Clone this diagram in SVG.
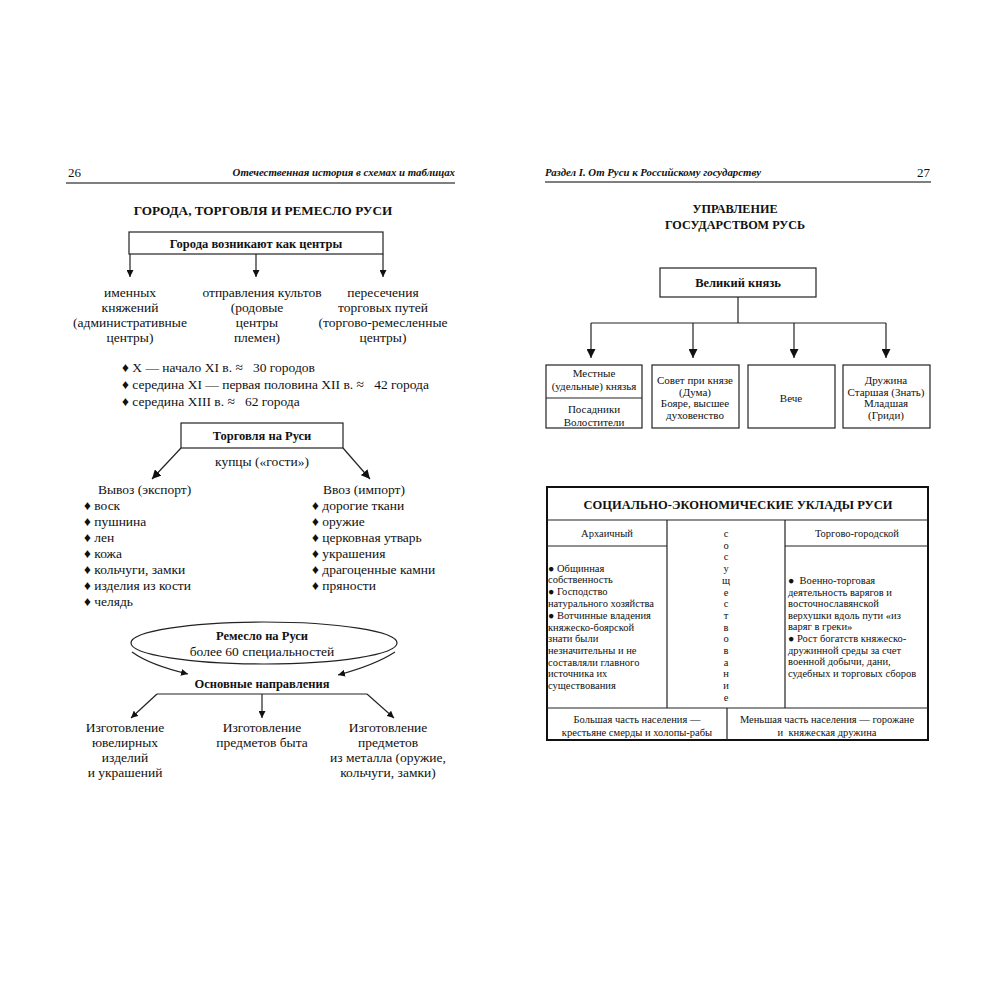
<svg xmlns="http://www.w3.org/2000/svg" width="1000" height="1000" viewBox="0 0 1000 1000">
<defs>
<style>
text{font-family:"Liberation Serif","Times New Roman",serif;fill:#111;white-space:pre}
.hd{font-size:10.8px;font-style:italic;font-weight:bold}
.pn{font-size:13px}
.ttl{font-size:13.2px;font-weight:bold}
.ttl2{font-size:12.2px;font-weight:bold}
.b{font-weight:bold}
.t13{font-size:13.5px}
.t12{font-size:12.5px}
.t11{font-size:11px}
.t10{font-size:10.5px}
.c{text-anchor:middle}
.box{fill:#fff;stroke:#222;stroke-width:1.2}
.ln{fill:none;stroke:#222;stroke-width:1.2}
.thick{fill:none;stroke:#111;stroke-width:2}
</style>
<marker id="ah" viewBox="0 0 10 10" refX="10" refY="5" markerWidth="7" markerHeight="7" orient="auto" markerUnits="userSpaceOnUse">
<path d="M0,0 L10,5 L0,10 z" fill="#111"/>
</marker>
<marker id="ah2" viewBox="0 0 10 10" refX="10" refY="5" markerWidth="9" markerHeight="9" orient="auto" markerUnits="userSpaceOnUse">
<path d="M0,0 L10,5 L0,10 z" fill="#111"/>
</marker>
</defs>
<rect width="1000" height="1000" fill="#fff"/>

<!-- page headers -->
<g id="header-left">
<text class="pn" x="68" y="177">26</text>
<text class="hd" x="455" y="176" text-anchor="end">Отечественная история в схемах и таблицах</text>
<line x1="66" y1="183" x2="455" y2="183" stroke="#555" stroke-width="1.3"/>
</g>
<g id="header-right">
<text class="hd" x="545" y="176">Раздел I. От Руси к Российскому государству</text>
<text class="pn" x="930" y="177" text-anchor="end">27</text>
<line x1="545" y1="182" x2="931" y2="182" stroke="#555" stroke-width="1.3"/>
</g>

<!-- LEFT PAGE -->
<text class="ttl c" x="263" y="215">ГОРОДА, ТОРГОВЛЯ И РЕМЕСЛО РУСИ</text>

<g id="cities">
<rect class="box" x="129" y="232" width="254" height="22"/>
<text class="t12 b c" x="256" y="248">Города возникают как центры</text>
</g>

<g id="col-princes">
<text class="t13 c" x="130" y="297">именных</text>
<text class="t13 c" x="130" y="312">княжений</text>
<text class="t13 c" x="130" y="327">(административные</text>
<text class="t13 c" x="130" y="342">центры)</text>
</g>
<g id="col-cults">
<text class="t13 c" x="262" y="297">отправления культов</text>
<text class="t13 c" x="257" y="312">(родовые</text>
<text class="t13 c" x="257" y="327">центры</text>
<text class="t13 c" x="257" y="342">племен)</text>
</g>
<g id="col-trade">
<text class="t13 c" x="383" y="297">пересечения</text>
<text class="t13 c" x="383" y="312">торговых путей</text>
<text class="t13 c" x="383" y="327">(торгово-ремесленные</text>
<text class="t13 c" x="383" y="342">центры)</text>
</g>

<g id="counts">
<text class="t13" x="122" y="372">♦ X — начало XI в. ≈   30 городов</text>
<text class="t13" x="122" y="389">♦ середина XI — первая половина XII в. ≈   42 города</text>
<text class="t13" x="122" y="406">♦ середина XIII в. ≈   62 города</text>
</g>

<g id="trade">
<rect class="box" x="181" y="423" width="162" height="25"/>
<text class="t12 b c" x="262" y="440">Торговля на Руси</text>
<text class="t13 c" x="262" y="466">купцы («гости»)</text>
</g>

<g id="export">
<text class="t13" x="98" y="494">Вывоз (экспорт)</text>
<text class="t13" x="84" y="510">♦ воск</text>
<text class="t13" x="84" y="526">♦ пушнина</text>
<text class="t13" x="84" y="542">♦ лен</text>
<text class="t13" x="84" y="558">♦ кожа</text>
<text class="t13" x="84" y="574">♦ кольчуги, замки</text>
<text class="t13" x="84" y="590">♦ изделия из кости</text>
<text class="t13" x="84" y="606">♦ челядь</text>
</g>
<g id="import">
<text class="t13" x="323" y="494">Ввоз (импорт)</text>
<text class="t13" x="312" y="510">♦ дорогие ткани</text>
<text class="t13" x="312" y="526">♦ оружие</text>
<text class="t13" x="312" y="542">♦ церковная утварь</text>
<text class="t13" x="312" y="558">♦ украшения</text>
<text class="t13" x="312" y="574">♦ драгоценные камни</text>
<text class="t13" x="312" y="590">♦ пряности</text>
</g>

<g id="craft">
<ellipse class="box" cx="264" cy="643" rx="133" ry="21"/>
<text class="t12 b c" x="262" y="640">Ремесло на Руси</text>
<text class="t13 c" x="262" y="656">более 60 специальностей</text>
</g>
<g id="directions">
<text class="t12 b c" x="262" y="688">Основные направления</text>
</g>
<g id="dir-jewel">
<text class="t13 c" x="125" y="732">Изготовление</text>
<text class="t13 c" x="125" y="747">ювелирных</text>
<text class="t13 c" x="125" y="762">изделий</text>
<text class="t13 c" x="125" y="777">и украшений</text>
</g>
<g id="dir-house">
<text class="t13 c" x="262" y="732">Изготовление</text>
<text class="t13 c" x="262" y="747">предметов быта</text>
</g>
<g id="dir-metal">
<text class="t13 c" x="388" y="732">Изготовление</text>
<text class="t13 c" x="388" y="747">предметов</text>
<text class="t13 c" x="388" y="762">из металла (оружие,</text>
<text class="t13 c" x="388" y="777">кольчуги, замки)</text>
</g>

<!-- RIGHT PAGE -->
<text class="ttl2 c" x="735" y="213">УПРАВЛЕНИЕ</text>
<text class="ttl2 c" x="735" y="229">ГОСУДАРСТВОМ РУСЬ</text>

<g id="grand-prince">
<rect class="box" x="660" y="268" width="156" height="29"/>
<text class="t12 b c" x="738" y="287">Великий князь</text>
</g>
<g id="local-princes">
<rect class="box" x="546" y="365" width="96" height="63"/>
<line class="ln" x1="546" y1="398" x2="642" y2="398"/>
<text class="t11 c" x="594" y="377">Местные</text>
<text class="t11 c" x="594" y="390">(удельные) князья</text>
<text class="t11 c" x="594" y="413">Посадники</text>
<text class="t11 c" x="594" y="426">Волостители</text>
</g>
<g id="council">
<rect class="box" x="652" y="365" width="87" height="63"/>
<text class="t11 c" x="695" y="384">Совет при князе</text>
<text class="t11 c" x="695" y="396">(Дума)</text>
<text class="t11 c" x="695" y="407">Бояре, высшее</text>
<text class="t11 c" x="695" y="419">духовенство</text>
</g>
<g id="veche">
<rect class="box" x="748" y="365" width="87" height="63"/>
<text class="t11 c" x="791" y="402">Вече</text>
</g>
<g id="druzhina">
<rect class="box" x="843" y="365" width="87" height="63"/>
<text class="t11 c" x="886" y="384">Дружина</text>
<text class="t11 c" x="886" y="396">Старшая (Знать)</text>
<text class="t11 c" x="886" y="407">Младшая</text>
<text class="t11 c" x="886" y="419">(Гриди)</text>
</g>

<g id="social-table">
<rect class="thick" x="547" y="487" width="381" height="253"/>
<line class="ln" x1="547" y1="520" x2="928" y2="520"/>
<text class="t12 b c" x="738" y="509">СОЦИАЛЬНО-ЭКОНОМИЧЕСКИЕ УКЛАДЫ РУСИ</text>
<line class="ln" x1="667" y1="520" x2="667" y2="708"/>
<line class="ln" x1="785" y1="520" x2="785" y2="708"/>
<line class="ln" x1="547" y1="546" x2="667" y2="546"/>
<line class="ln" x1="785" y1="546" x2="928" y2="546"/>
<line class="ln" x1="547" y1="708" x2="928" y2="708"/>
<line class="ln" x1="727" y1="708" x2="727" y2="740"/>
<text class="t10 c" x="607" y="537">Архаичный</text>
<text class="t10 c" x="857" y="537">Торгово-городской</text>
<g class="t10 c">
<text x="726" y="537">с</text>
<text x="726" y="548.7">о</text>
<text x="726" y="560.4">с</text>
<text x="726" y="572.1">у</text>
<text x="726" y="583.8">щ</text>
<text x="726" y="595.5">е</text>
<text x="726" y="607.2">с</text>
<text x="726" y="618.9">т</text>
<text x="726" y="630.6">в</text>
<text x="726" y="642.3">о</text>
<text x="726" y="654">в</text>
<text x="726" y="665.7">а</text>
<text x="726" y="677.4">н</text>
<text x="726" y="689.1">и</text>
<text x="726" y="700.8">е</text>
</g>
<g class="t10">
<text x="548" y="572">● Общинная</text>
<text x="548" y="583">собственность</text>
<text x="548" y="595">● Господство</text>
<text x="548" y="607">натурального хозяйства</text>
<text x="548" y="619">● Вотчинные владения</text>
<text x="548" y="631">княжеско-боярской</text>
<text x="548" y="642">знати были</text>
<text x="548" y="654">незначительны и не</text>
<text x="548" y="666">составляли главного</text>
<text x="548" y="677">источника их</text>
<text x="548" y="689">существования</text>
</g>
<g class="t10">
<text x="788" y="584">●  Военно-торговая</text>
<text x="788" y="596">деятельность варягов и</text>
<text x="788" y="607">восточнославянской</text>
<text x="788" y="619">верхушки вдоль пути «из</text>
<text x="788" y="630">варяг в греки»</text>
<text x="788" y="642">● Рост богатств княжеско-</text>
<text x="788" y="654">дружинной среды за счет</text>
<text x="788" y="665">военной добычи, дани,</text>
<text x="788" y="677">судебных и торговых сборов</text>
</g>
<text class="t10 c" x="637" y="723">Большая часть населения —</text>
<text class="t10 c" x="637" y="736">крестьяне смерды и холопы-рабы</text>
<text class="t10 c" x="827" y="723">Меньшая часть населения — горожане</text>
<text class="t10 c" x="827" y="736">и  княжеская дружина</text>
</g>

<!-- CONNECTORS -->
<g id="connectors">
<line class="ln" x1="130" y1="254" x2="130" y2="277" marker-end="url(#ah)"/>
<line class="ln" x1="256" y1="254" x2="256" y2="277" marker-end="url(#ah)"/>
<line class="ln" x1="383" y1="254" x2="383" y2="277" marker-end="url(#ah)"/>
<line class="ln" x1="181" y1="448" x2="152" y2="479" marker-end="url(#ah2)"/>
<line class="ln" x1="343" y1="448" x2="370" y2="479" marker-end="url(#ah2)"/>
<path class="ln" d="M132,652 Q150,665 188,674" marker-end="url(#ah)"/>
<path class="ln" d="M395,652 Q375,665 338,675" marker-end="url(#ah)"/>
<line class="ln" x1="157" y1="694" x2="367" y2="694"/>
<line class="ln" x1="157" y1="694" x2="131" y2="718" marker-end="url(#ah)"/>
<line class="ln" x1="262" y1="694" x2="262" y2="718" marker-end="url(#ah)"/>
<line class="ln" x1="367" y1="694" x2="394" y2="718" marker-end="url(#ah)"/>
<line class="ln" x1="738" y1="297" x2="738" y2="323"/>
<line class="ln" x1="591" y1="323" x2="886" y2="323"/>
<line class="ln" x1="591" y1="323" x2="591" y2="358" marker-end="url(#ah2)"/>
<line class="ln" x1="693" y1="323" x2="693" y2="358" marker-end="url(#ah2)"/>
<line class="ln" x1="794" y1="323" x2="794" y2="358" marker-end="url(#ah2)"/>
<line class="ln" x1="886" y1="323" x2="886" y2="358" marker-end="url(#ah2)"/>
</g>
</svg>
